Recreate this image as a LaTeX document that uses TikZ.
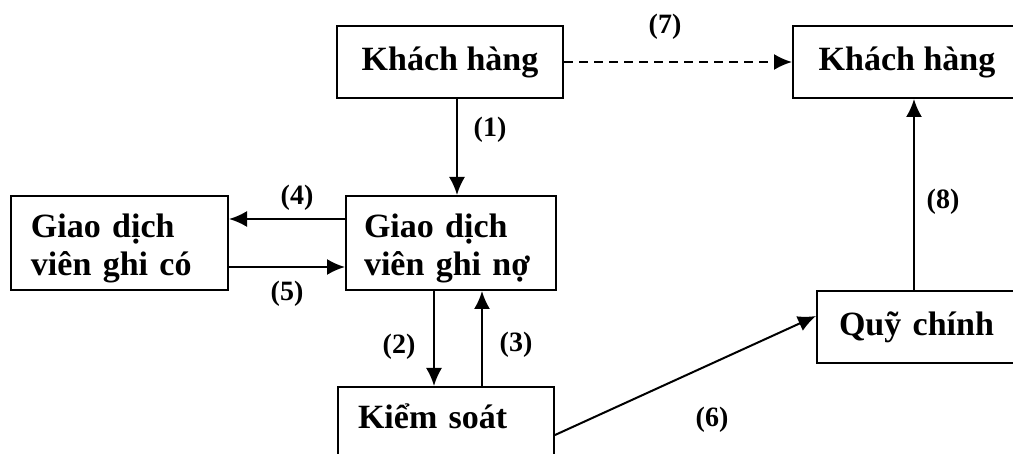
\documentclass[tikz,border=0pt]{standalone}
\usepackage{fontspec}
\setmainfont{Liberation Serif}
\usetikzlibrary{arrows.meta}

\tikzset{
  hop/.style={draw, line width=1pt, font=\fontsize{17}{19}\selectfont\bfseries, inner ysep=0pt},
  arr/.style={line width=1pt, -{Latex[length=9pt,width=8pt]}},
  nhan/.style={font=\fontsize{14}{16}\selectfont\bfseries, inner sep=0pt}
}

\begin{document}
\begin{tikzpicture}[x=0.5pt, y=-0.5pt]
    % Khung trang (don vi: 1 = 0.5pt, truc y huong xuong)
    \useasboundingbox (0,0) rectangle (1013,454);

    % Cac hop
    \node[hop, anchor=north west, minimum width=113pt, minimum height=36pt] (kh1) at (336,25) {Khách hàng};
    \node[hop, anchor=north west, minimum width=114pt, minimum height=36pt] (kh2) at (792,25) {Khách hàng};
    \node[hop, anchor=north west, align=left, text width=88.5pt, inner xsep=10pt, text height=21pt, text depth=26pt] (gdco) at (10,195) {Giao dịch\\viên ghi có};
    \node[hop, anchor=north west, align=left, text width=87pt, inner xsep=9pt, text height=21pt, text depth=26pt] (gdno) at (345,195) {Giao dịch\\viên ghi nợ};
    \node[hop, anchor=north west, align=left, text width=88pt, inner xsep=10pt, text height=21pt, text depth=30pt] (ks) at (337,386) {Kiểm soát};
    \node[hop, anchor=north west, align=left, text width=80pt, inner xsep=11pt, minimum height=36pt] (qc) at (816,290) {Quỹ chính};

    % Cac mui ten
    \draw[arr, dashed, dash pattern=on 4.5pt off 3pt] (kh1) -- (kh2);
    \draw[arr] ([xshift=3.5pt]kh1.south) -- ([xshift=3.5pt]kh1.south |- gdno.north);
    \draw[arr] ([yshift=12pt]gdno.west) -- ([yshift=12pt]gdco.east);
    \draw[arr] ([yshift=-12pt]gdco.east) -- ([yshift=-12pt]gdno.west);
    \draw[arr] ([xshift=-8.5pt]gdno.south) -- ([xshift=-8.5pt]gdno.south |- ks.north);
    \draw[arr] ([xshift=15.5pt]gdno.south |- ks.north) -- ([xshift=15.5pt]gdno.south);
    \draw[arr] ([yshift=1.5pt]ks.east) -- ([yshift=5.5pt]qc.west);
    \draw[arr] ([xshift=-2.5pt]qc.north) -- ([xshift=-2.5pt]qc.north |- kh2.south);

    % Nhan so thu tu
    \node[nhan] (n1) at (490,130) {(1)};
    \node[nhan] (n2) at (399,347) {(2)};
    \node[nhan] (n3) at (516,345) {(3)};
    \node[nhan] (n4) at (297,198) {(4)};
    \node[nhan] (n5) at (287,294) {(5)};
    \node[nhan] (n6) at (712,420) {(6)};
    \node[nhan] (n7) at (665,27) {(7)};
    \node[nhan] (n8) at (943,202) {(8)};
\end{tikzpicture}
\end{document}
